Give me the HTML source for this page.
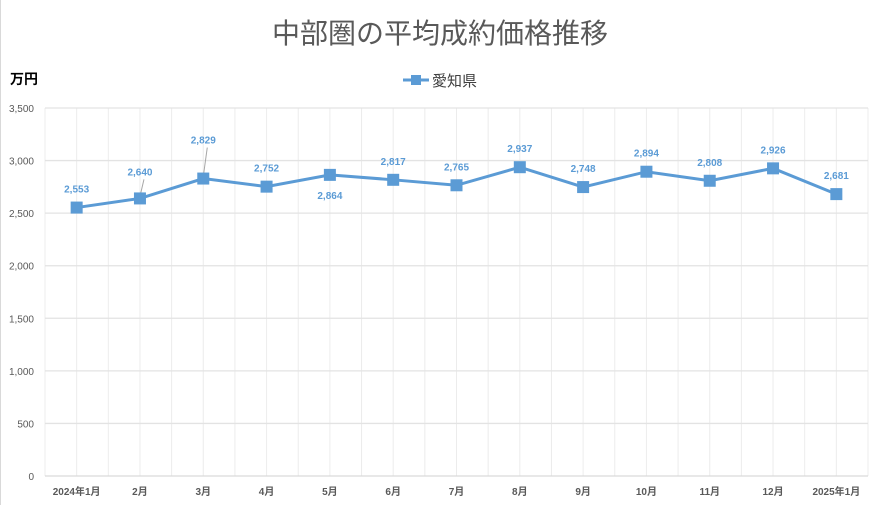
<!DOCTYPE html>
<html><head><meta charset="utf-8"><style>
body{margin:0;background:#fff;}
svg text{font-family:"Liberation Sans","Noto Sans CJK JP",sans-serif;}
</style></head><body>
<svg width="880" height="505" xmlns="http://www.w3.org/2000/svg">
<rect x="0" y="0" width="880" height="505" fill="#fff"/>
<line x1="0.5" y1="0" x2="0.5" y2="505" stroke="#d9d9d9"/>
<text x="440" y="43" text-anchor="middle" font-size="28" fill="#595959">中部圏の平均成約価格推移</text>
<text x="10" y="84" font-size="14" font-weight="bold" fill="#000">万円</text>
<g>
<line x1="403" y1="80" x2="429" y2="80" stroke="#5b9bd5" stroke-width="3"/>
<rect x="411" y="75" width="10" height="10" fill="#5b9bd5"/>
<text x="432" y="86" font-size="15" fill="#404040">愛知県</text>
</g>
<g id="grid"></g><g id="axes"></g><g id="series"></g>
</svg>
<script>
const categories=["2024年1月","2月","3月","4月","5月","6月","7月","8月","9月","10月","11月","12月","2025年1月"];
const values=[2553,2640,2829,2752,2864,2817,2765,2937,2748,2894,2808,2926,2681];
const yTicks=[0,500,1000,1500,2000,2500,3000,3500];
const labelBelow=[false,false,false,false,true,false,false,false,false,false,false,false,false];
const labelRaise=[0,8,20,0,0,0,0,0,0,0,0,0,0];
const NS="http://www.w3.org/2000/svg";
const L=45,R=868,T=108,B=476,YMAX=3500;
const bw=(R-L)/categories.length;
const x=i=>L+bw*(i+0.5);
const y=v=>B-(v/YMAX)*(B-T);
function mk(tag,attrs,parent){const e=document.createElementNS(NS,tag);for(const k in attrs)e.setAttribute(k,attrs[k]);parent.appendChild(e);return e;}
const grid=document.getElementById('grid'),axes=document.getElementById('axes'),ser=document.getElementById('series');
for(let i=0;i<=categories.length*2;i++){const gx=L+bw/2*i;
const l=mk('line',{x1:gx,x2:gx,y1:T,y2:B,stroke:'#ececec','stroke-width':1},grid);

}
yTicks.forEach(t=>{const l=mk('line',{x1:L,x2:R,y1:y(t),y2:y(t),stroke:t===0?'#d9d9d9':'#e3e3e3','stroke-width':1.3},grid);


const tx=mk('text',{x:34,y:y(t)+4,'text-anchor':'end','font-size':10,fill:'#595959'},axes);tx.textContent=t.toLocaleString('en-US');

});
categories.forEach((c,i)=>{const tx=mk('text',{x:x(i),y:495,'text-anchor':'middle','font-size':10,'font-weight':'bold',fill:'#595959'},axes);tx.textContent=c;

});
const pl=mk('polyline',{points:values.map((v,i)=>x(i)+','+y(v)).join(' '),fill:'none',stroke:'#5b9bd5','stroke-width':3},ser);


values.forEach((v,i)=>{
const ly=labelBelow[i]?y(v)+24:y(v)-15-labelRaise[i];
if(labelRaise[i]>0){const ll=mk('line',{x1:x(i)+4,y1:ly+4,x2:x(i),y2:y(v)-2,stroke:'#a6a6a6','stroke-width':1},ser);

}
const r=mk('rect',{x:x(i)-6,y:y(v)-6,width:12,height:12,fill:'#5b9bd5'},ser);


const tx=mk('text',{x:x(i),y:ly,'text-anchor':'middle','font-size':10,'font-weight':'bold',fill:'#5b9bd5'},ser);tx.textContent=v.toLocaleString('en-US');

});
</script>
</body></html>
